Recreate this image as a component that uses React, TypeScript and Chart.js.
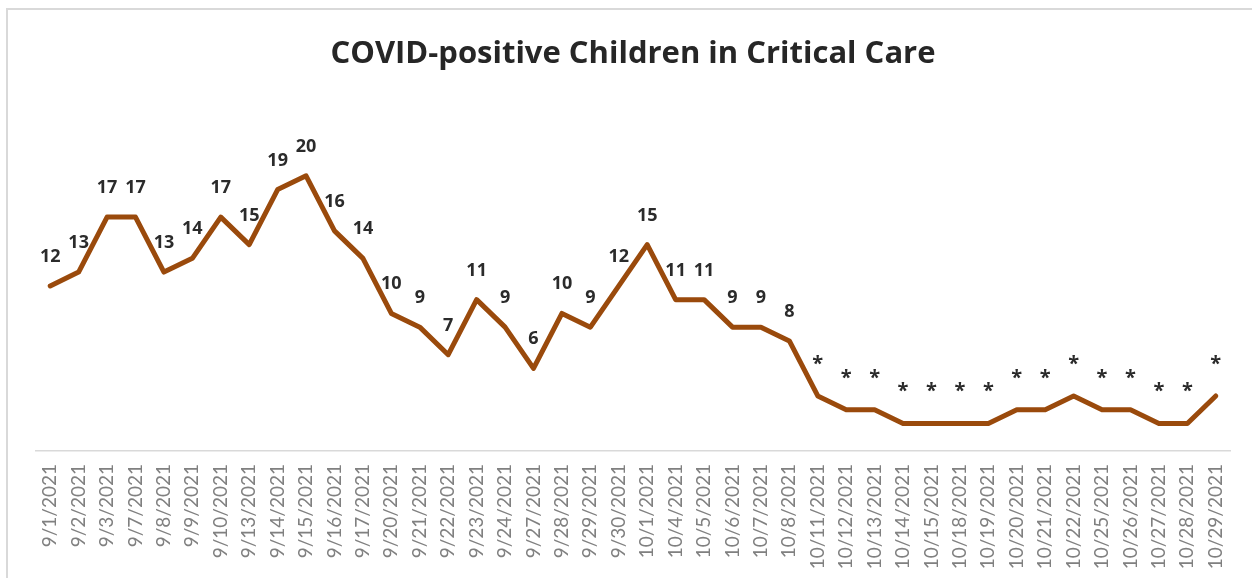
import React, { useEffect, useRef } from "react";
import { Chart, registerables } from "chart.js";

Chart.register(...registerables);

const TITLE = "COVID-positive Children in Critical Care";

const dates = [
  "9/1/2021", "9/2/2021", "9/3/2021", "9/7/2021", "9/8/2021", "9/9/2021", "9/10/2021",
  "9/13/2021", "9/14/2021", "9/15/2021", "9/16/2021", "9/17/2021", "9/20/2021", "9/21/2021",
  "9/22/2021", "9/23/2021", "9/24/2021", "9/27/2021", "9/28/2021", "9/29/2021", "9/30/2021",
  "10/1/2021", "10/4/2021", "10/5/2021", "10/6/2021", "10/7/2021", "10/8/2021", "10/11/2021",
  "10/12/2021", "10/13/2021", "10/14/2021", "10/15/2021", "10/18/2021", "10/19/2021",
  "10/20/2021", "10/21/2021", "10/22/2021", "10/25/2021", "10/26/2021", "10/27/2021",
  "10/28/2021", "10/29/2021",
];

const children = [
  12, 13, 17, 17, 13, 14, 17, 15, 19, 20, 16, 14, 10, 9, 7, 11, 9, 6, 10, 9, 12,
  15, 11, 11, 9, 9, 8, 4, 3, 3, 2, 2, 2, 2, 3, 3, 4, 3, 3, 2, 2, 4,
];

// Values below this are suppressed and shown as "*"
const SUPPRESS_BELOW = 5;

const LINE_COLOR = "#9A4A0C";

export default function App() {
  const canvasRef = useRef<HTMLCanvasElement | null>(null);

  useEffect(() => {
    if (!canvasRef.current) return;

    const labelPlugin = {
      id: "labelsAndTitle",
      afterDatasetsDraw(chart: any) {
        const ctx = chart.ctx;
        ctx.save();
        // title
        ctx.fillStyle = "#262626";
        ctx.font = "bold 31px 'Open Sans'";
        ctx.textAlign = "center";
        ctx.textBaseline = "alphabetic";
        ctx.fillText(TITLE, 633, 63);
        // data labels
        const meta = chart.getDatasetMeta(0);
        ctx.fillStyle = "#2b2b2b";
        meta.data.forEach((pt: any, i: number) => {
          const v = children[i];
          if (v < SUPPRESS_BELOW) {
            ctx.font = "bold 20px 'Open Sans'";
            ctx.fillText("*", pt.x, pt.y - 26);
          } else {
            ctx.font = "bold 18px 'Open Sans'";
            ctx.fillText(String(v), pt.x, pt.y - 24);
          }
        });
        ctx.restore();
      },
    };

    const chart = new Chart(canvasRef.current, {
      type: "line",
      data: {
        labels: dates,
        datasets: [
          {
            data: children,
            borderColor: LINE_COLOR,
            backgroundColor: LINE_COLOR,
            borderWidth: 5,
            pointRadius: 0,
            tension: 0,
            borderJoinStyle: "round",
            borderCapStyle: "round",
          },
        ],
      },
      options: {
        animation: false,
        responsive: false,
        maintainAspectRatio: false,
        layout: { padding: { left: 36, right: 22, top: 107, bottom: 0 } },
        plugins: {
          legend: { display: false },
          title: { display: false },
          tooltip: { enabled: false },
        },
        scales: {
          x: {
            offset: true,
            grid: { display: false, drawTicks: false },
            border: { display: true, color: "#d9d9d9", width: 1.5 },
            ticks: {
              autoSkip: false,
              minRotation: 90,
              maxRotation: 90,
              padding: 13,
              color: "#808080",
              font: { family: "Lato", size: 19 },
            },
            afterFit: (scale: any) => {
              scale.height = 127;
            },
          },
          y: {
            display: false,
            min: 0,
            max: 25,
          },
        },
      },
      plugins: [labelPlugin],
    });

    return () => chart.destroy();
  }, []);

  return (
    <div
      style={{
        position: "fixed",
        left: 0,
        top: 0,
        width: 1252,
        height: 578,
        overflow: "hidden",
        background: "#ffffff",
      }}
    >
      <div
        style={{
          position: "absolute",
          left: 6,
          top: 8,
          width: 1400,
          height: 800,
          border: "2px solid #d9d9d9",
        }}
      />
      <canvas
        ref={canvasRef}
        width={1252}
        height={578}
        style={{ position: "absolute", left: 0, top: 0, width: 1252, height: 578 }}
      />
    </div>
  );
}
